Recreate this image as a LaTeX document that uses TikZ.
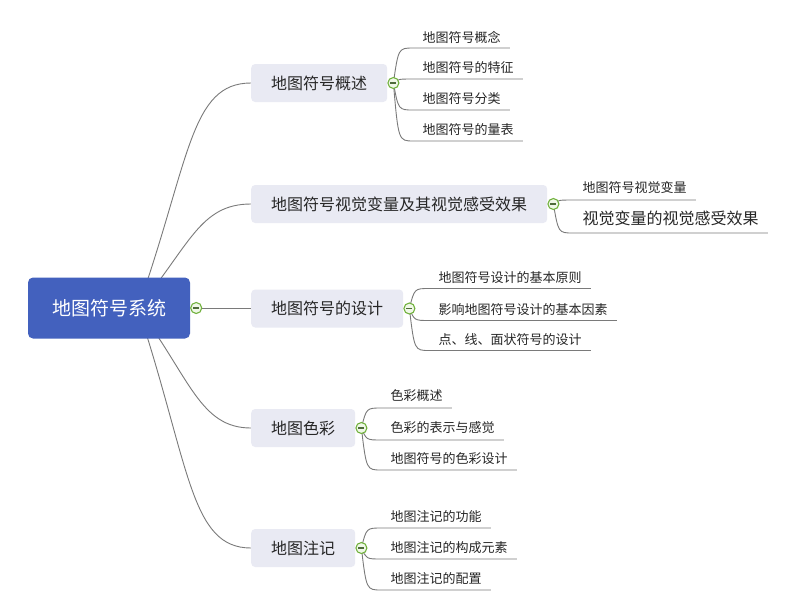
\documentclass[tikz,border=0pt]{standalone}
\usepackage{fontspec}
\setmainfont{Noto Sans CJK SC}
\usetikzlibrary{calc,backgrounds}
\definecolor{rootblue}{HTML}{4361BE}
\definecolor{topicfill}{HTML}{E9EAF3}
\definecolor{linegray}{HTML}{7A7A7A}
\definecolor{txt}{HTML}{262626}
\definecolor{foldgreen}{HTML}{72B23E}
\definecolor{foldfill}{HTML}{F0F8E8}
\definecolor{foldminus}{HTML}{4E6B3A}
\newcommand\leafitem[6]{%
  \node[#5,anchor=west] (#1) at ($(#2)+(29,#3)$) {#6};
  \coordinate (#1u) at ($(#2)+(20,#4)$);
  \coordinate (#1k) at ($(#2)+(5,#4)$);
  \begin{pgfonlayer}{background}
    \draw[conn] (#2.center) .. controls (#1k) .. (#1u) -- (#1.east |- #1u) -- ++(9,0);
  \end{pgfonlayer}}
\begin{document}
\begin{tikzpicture}[x=1pt,y=-1pt,
  conn/.style={draw=linegray,line width=0.9pt},
  rootbox/.style={fill=rootblue,rounded corners=5pt,text=white,minimum width=162pt,minimum height=61pt,font=\fontsize{19}{22}\selectfont,inner sep=0pt},
  topicbox/.style={fill=topicfill,rounded corners=4pt,text=txt,minimum height=38pt,inner xsep=20pt,inner ysep=0pt,font=\fontsize{16}{19}\selectfont},
  leafnode/.style={text=txt,inner sep=0pt,font=\fontsize{13}{16}\selectfont},
  bigleaf/.style={text=txt,inner sep=0pt,font=\fontsize{16}{19}\selectfont},
  fold/.style={circle,draw=foldgreen,fill=foldfill,line width=1.1pt,minimum size=11pt,inner sep=0pt,
    path picture={\draw[foldminus,line width=1.1pt] ([xshift=-3pt]path picture bounding box.center) -- ([xshift=3pt]path picture bounding box.center);}}
]
\begin{pgfonlayer}{background}
  \fill[white] (0,0) rectangle (810,614);
\end{pgfonlayer}
\useasboundingbox (0,0) rectangle (810,614);

\node[rootbox] (root) at (109,308) {地图符号系统};
\node[fold] (rc) at ([xshift=6pt]root.east) {};

\node[topicbox,anchor=west] (b1) at (251,83) {地图符号概述};
\node[fold] (c1) at ([xshift=6pt]b1.east) {};
\node[topicbox,anchor=west] (b2) at (251,204) {地图符号视觉变量及其视觉感受效果};
\node[fold] (c2) at ([xshift=6pt]b2.east) {};
\node[topicbox,anchor=west] (b3) at (251,308.5) {地图符号的设计};
\node[fold] (c3) at ([xshift=6pt]b3.east) {};
\node[topicbox,anchor=west] (b4) at (251,428) {地图色彩};
\node[fold] (c4) at ([xshift=6pt]b4.east) {};
\node[topicbox,anchor=west] (b5) at (251,548) {地图注记};
\node[fold] (c5) at ([xshift=6pt]b5.east) {};

\coordinate (rs) at (138,308);
\begin{pgfonlayer}{background}
  \draw[conn] (rs) .. controls (190,160) and (190,83) .. (b1.west);
  \draw[conn] (rs) .. controls (190,245) and (200,204) .. (b2.west);
  \draw[conn] (rc.center) -- (rc.center -| b3.west);
  \draw[conn] (rs) .. controls (190,378) and (200,428) .. (b4.west);
  \draw[conn] (rs) .. controls (190,466) and (190,548) .. (b5.west);
\end{pgfonlayer}

\leafitem{a1}{c1}{-46}{-35}{leafnode}{地图符号概念}
\leafitem{a2}{c1}{-15}{-4}{leafnode}{地图符号的特征}
\leafitem{a3}{c1}{16}{27}{leafnode}{地图符号分类}
\leafitem{a4}{c1}{47}{58}{leafnode}{地图符号的量表}

\leafitem{v1}{c2}{-16}{-4}{leafnode}{地图符号视觉变量}
\leafitem{v2}{c2}{14}{29}{bigleaf}{视觉变量的视觉感受效果}

\leafitem{d1}{c3}{-31}{-20}{leafnode}{地图符号设计的基本原则}
\leafitem{d2}{c3}{1}{12}{leafnode}{影响地图符号设计的基本因素}
\leafitem{d3}{c3}{31}{42}{leafnode}{点、线、面状符号的设计}

\leafitem{s1}{c4}{-32}{-20}{leafnode}{色彩概述}
\leafitem{s2}{c4}{0}{12}{leafnode}{色彩的表示与感觉}
\leafitem{s3}{c4}{31}{42}{leafnode}{地图符号的色彩设计}

\leafitem{z1}{c5}{-31}{-20}{leafnode}{地图注记的功能}
\leafitem{z2}{c5}{0}{11}{leafnode}{地图注记的构成元素}
\leafitem{z3}{c5}{31}{42}{leafnode}{地图注记的配置}
\end{tikzpicture}
\end{document}
